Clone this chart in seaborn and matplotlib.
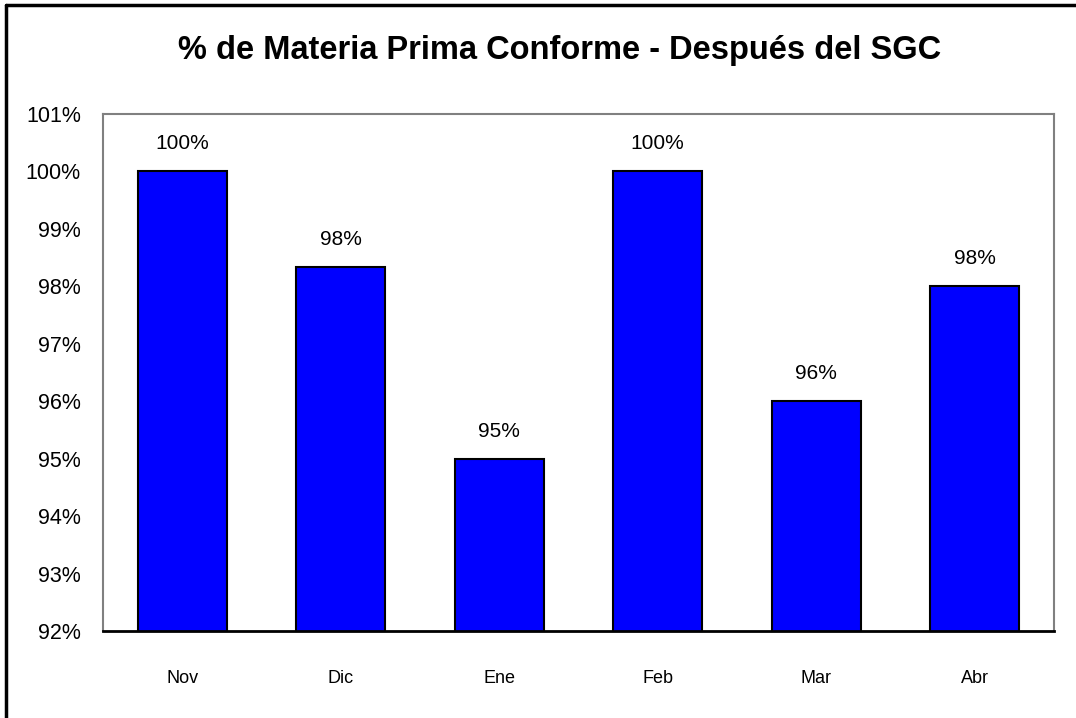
import matplotlib
matplotlib.use("Agg")
import matplotlib.pyplot as plt
import seaborn as sns
import pandas as pd
from matplotlib.lines import Line2D
from matplotlib.ticker import FuncFormatter

# datos
meses = ["Nov", "Dic", "Ene", "Feb", "Mar", "Abr"]
porcentajes = [100.0, 98.33, 95.0, 100.0, 96.0, 98.0]
titulo = "% de Materia Prima Conforme - Después del SGC"

df = pd.DataFrame({"mes": meses, "pct": porcentajes})

sns.set_style("white")
plt.rcParams["font.family"] = ["Liberation Sans", "DejaVu Sans"]
plt.rcParams["text.color"] = "black"
plt.rcParams["xtick.color"] = "black"
plt.rcParams["ytick.color"] = "black"

fig = plt.figure(figsize=(10.76, 7.18), dpi=100)
ax = fig.add_axes([0.0957, 0.1212, 0.8838, 0.72])

sns.barplot(data=df, x="mes", y="pct", color="#0000FF", saturation=1,
            edgecolor="black", linewidth=1.5, width=0.56, ax=ax)

ax.set_ylim(92, 101)
ax.set_yticks(range(92, 102))
ax.yaxis.set_major_formatter(FuncFormatter(lambda v, p: f"{v:.0f}%"))
ax.set_xlim(-0.5, len(meses) - 0.5)
ax.set_xlabel("")
ax.set_ylabel("")
ax.tick_params(axis="y", length=0, pad=16, labelsize=15.5, labelcolor="black")
ax.tick_params(axis="x", length=0, pad=28, labelsize=13, labelcolor="black")

for s in ["left", "top", "right"]:
    ax.spines[s].set_color("#808080")
    ax.spines[s].set_linewidth(1.5)
ax.spines["bottom"].set_color("black")
ax.spines["bottom"].set_linewidth(2)

# etiquetas de valor
for c in ax.containers:
    ax.bar_label(c, labels=[f"{v:.0f}%" for v in porcentajes], padding=13,
                 fontsize=15, color="black")

fig.text(0.52, 0.93, titulo, ha="center", va="center", fontsize=23.5,
         fontweight="bold", color="black")

# borde del grafico (solo izquierda y arriba)
fig.add_artist(Line2D([6 / 1076, 6 / 1076], [0, 1 - 5 / 718], transform=fig.transFigure,
                      color="black", linewidth=2.5))
fig.add_artist(Line2D([6 / 1076, 1], [1 - 5 / 718, 1 - 5 / 718], transform=fig.transFigure,
                      color="black", linewidth=2.5))

fig.savefig("out.png", dpi=100)
